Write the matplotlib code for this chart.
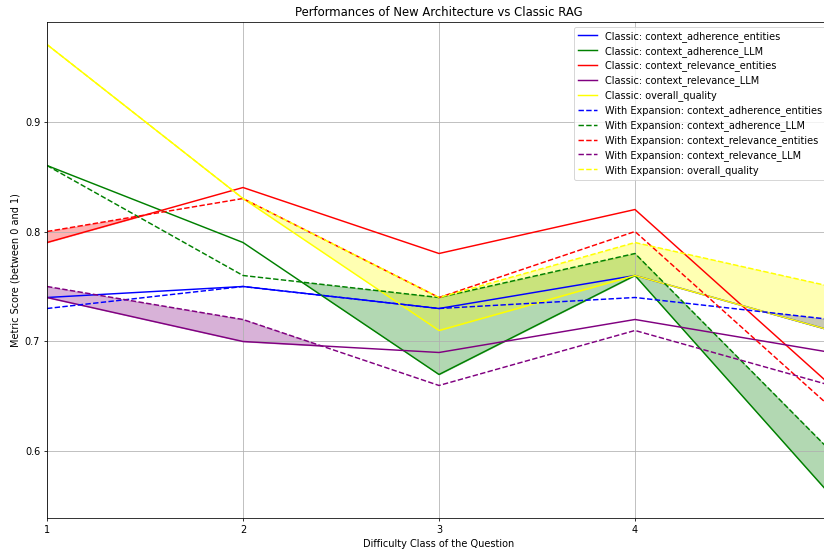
import matplotlib
matplotlib.use("Agg")
import matplotlib.pyplot as plt

difficulty = [1, 2, 3, 4, 5]
metrics = ["context_adherence_entities", "context_adherence_LLM",
           "context_relevance_entities", "context_relevance_LLM", "overall_quality"]
colours = ["blue", "green", "red", "purple", "yellow"]

classic_adherence_entities = [0.74, 0.75, 0.73, 0.76, 0.71]
classic_adherence_llm = [0.86, 0.79, 0.67, 0.76, 0.56]
classic_relevance_entities = [0.79, 0.84, 0.78, 0.82, 0.66]
classic_relevance_llm = [0.74, 0.70, 0.69, 0.72, 0.69]
classic_overall = [0.97, 0.83, 0.71, 0.76, 0.71]

exp_adherence_entities = [0.73, 0.75, 0.73, 0.74, 0.72]
exp_adherence_llm = [0.86, 0.76, 0.74, 0.78, 0.60]
exp_relevance_entities = [0.80, 0.83, 0.74, 0.80, 0.64]
exp_relevance_llm = [0.75, 0.72, 0.66, 0.71, 0.66]
exp_overall = [0.97, 0.83, 0.74, 0.79, 0.75]

classic = [classic_adherence_entities, classic_adherence_llm, classic_relevance_entities,
           classic_relevance_llm, classic_overall]
expansion = [exp_adherence_entities, exp_adherence_llm, exp_relevance_entities,
             exp_relevance_llm, exp_overall]

# the reference looks like a bigger figure scaled down, so draw at a low dpi
dpi = 70
fig = plt.figure(figsize=(824 / dpi, 552 / dpi), dpi=dpi)
# axes runs slightly past the right edge, as in the reference
ax = fig.add_axes([47 / 824, 34 / 552, 784 / 824, 496 / 552])

for name, col, vals in zip(metrics, colours, classic):
    ax.plot(difficulty, vals, color=col, linestyle="-", label=f"Classic: {name}")
for name, col, vals in zip(metrics, colours, expansion):
    ax.plot(difficulty, vals, color=col, linestyle="--", label=f"With Expansion: {name}")

# shade where the expanded version scores higher
for col, c_vals, e_vals in zip(colours, classic, expansion):
    where = [e > c for c, e in zip(c_vals, e_vals)]
    ax.fill_between(difficulty, c_vals, e_vals, where=where, interpolate=True,
                    color=col, alpha=0.3)

ax.set_xlim(1, 5)
ax.set_xticks([1, 2, 3, 4])
ax.set_xlabel("Difficulty Class of the Question")
ax.set_ylabel("Metric Score (between 0 and 1)")
ax.set_title("Performances of New Architecture vs Classic RAG")
ax.grid(True)
ax.legend(loc="upper right", labelspacing=0.41)

fig.savefig("out.png", dpi=dpi)
